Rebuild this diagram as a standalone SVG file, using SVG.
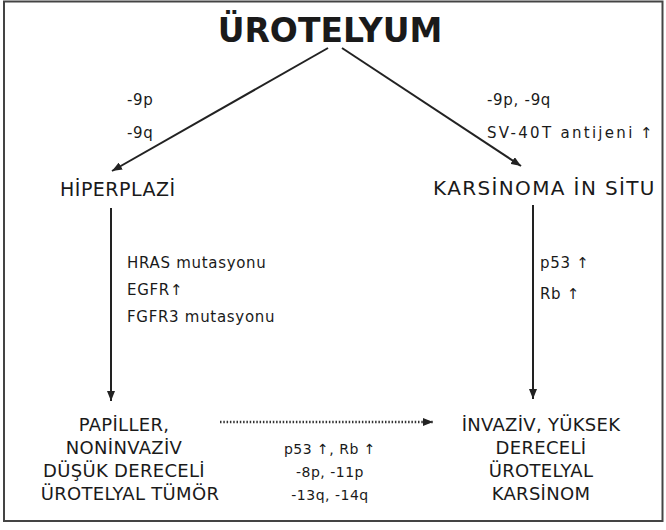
<svg xmlns="http://www.w3.org/2000/svg" width="666" height="530" viewBox="0 0 666 530">
<style>
text{font-family:"DejaVu Sans","Liberation Sans",sans-serif;fill:#1a1a1a}
.title{font-size:33px;font-weight:bold;text-anchor:middle}
.node{font-size:19px;letter-spacing:0.5px}
.blk{font-size:18px;letter-spacing:0.3px;text-anchor:middle}
.lbl{font-size:15px;letter-spacing:0.7px}
.cen{font-size:14px;letter-spacing:0.5px;text-anchor:middle}
.ln{stroke:#222;stroke-width:2;fill:none}
.dot{stroke:#333;stroke-width:2.5;stroke-dasharray:1.5 1.8;fill:none}
</style>
<defs>
<marker id="ah" viewBox="0 0 10 8" refX="10" refY="4" markerWidth="10" markerHeight="8" markerUnits="userSpaceOnUse" orient="auto">
<path d="M0,0 L10,4 L0,8 z" fill="#222"/>
</marker>
</defs>
<rect x="0" y="0" width="666" height="530" fill="#fff"/>
<rect x="4" y="1.5" width="658.5" height="519.5" fill="none" stroke="#444" stroke-width="2"/>

<g id="n-urotelyum"><text class="title" x="330" y="42">ÜROTELYUM</text></g>
<g id="n-hiperplazi"><text class="node" x="60" y="196">HİPERPLAZİ</text></g>
<g id="n-cis"><text class="node" x="433" y="195" style="font-size:20px" textLength="222" lengthAdjust="spacing">KARSİNOMA İN SİTU</text></g>
<g id="n-papiller" class="blk">
<text x="124" y="431">PAPİLLER,</text>
<text x="124" y="454">NONİNVAZİV</text>
<text x="124" y="477">DÜŞÜK DERECELİ</text>
<text x="130" y="500">ÜROTELYAL TÜMÖR</text>
</g>
<g id="n-invaziv" class="blk">
<text x="541" y="431">İNVAZİV, YÜKSEK</text>
<text x="541" y="454">DERECELİ</text>
<text x="541" y="477">ÜROTELYAL</text>
<text x="541" y="500">KARSİNOM</text>
</g>

<g id="connectors">
<line class="ln" x1="328" y1="48" x2="112" y2="171" marker-end="url(#ah)"/>
<line class="ln" x1="342" y1="48" x2="521" y2="166" marker-end="url(#ah)"/>
<line class="ln" x1="111" y1="208" x2="111" y2="401" marker-end="url(#ah)"/>
<line class="ln" x1="533" y1="205" x2="533" y2="399" marker-end="url(#ah)"/>
<line class="dot" x1="220" y1="422" x2="433" y2="422" marker-end="url(#ah)"/>
</g>

<g id="labels" class="lbl">
<text x="127" y="105">-9p</text>
<text x="127" y="138">-9q</text>
<text x="487" y="105">-9p, -9q</text>
<text x="487" y="138"><tspan textLength="146" lengthAdjust="spacing">SV-40T antijeni</tspan> <tspan x="640">↑</tspan></text>
<text x="127" y="268">HRAS mutasyonu</text>
<text x="127" y="295">EGFR↑</text>
<text x="127" y="322">FGFR3 mutasyonu</text>
<text x="540" y="268">p53 ↑</text>
<text x="540" y="299">Rb ↑</text>
<text class="cen" x="330" y="454">p53 ↑, Rb ↑</text>
<text class="cen" x="330" y="477">-8p, -11p</text>
<text class="cen" x="330" y="500">-13q, -14q</text>
</g>
</svg>
